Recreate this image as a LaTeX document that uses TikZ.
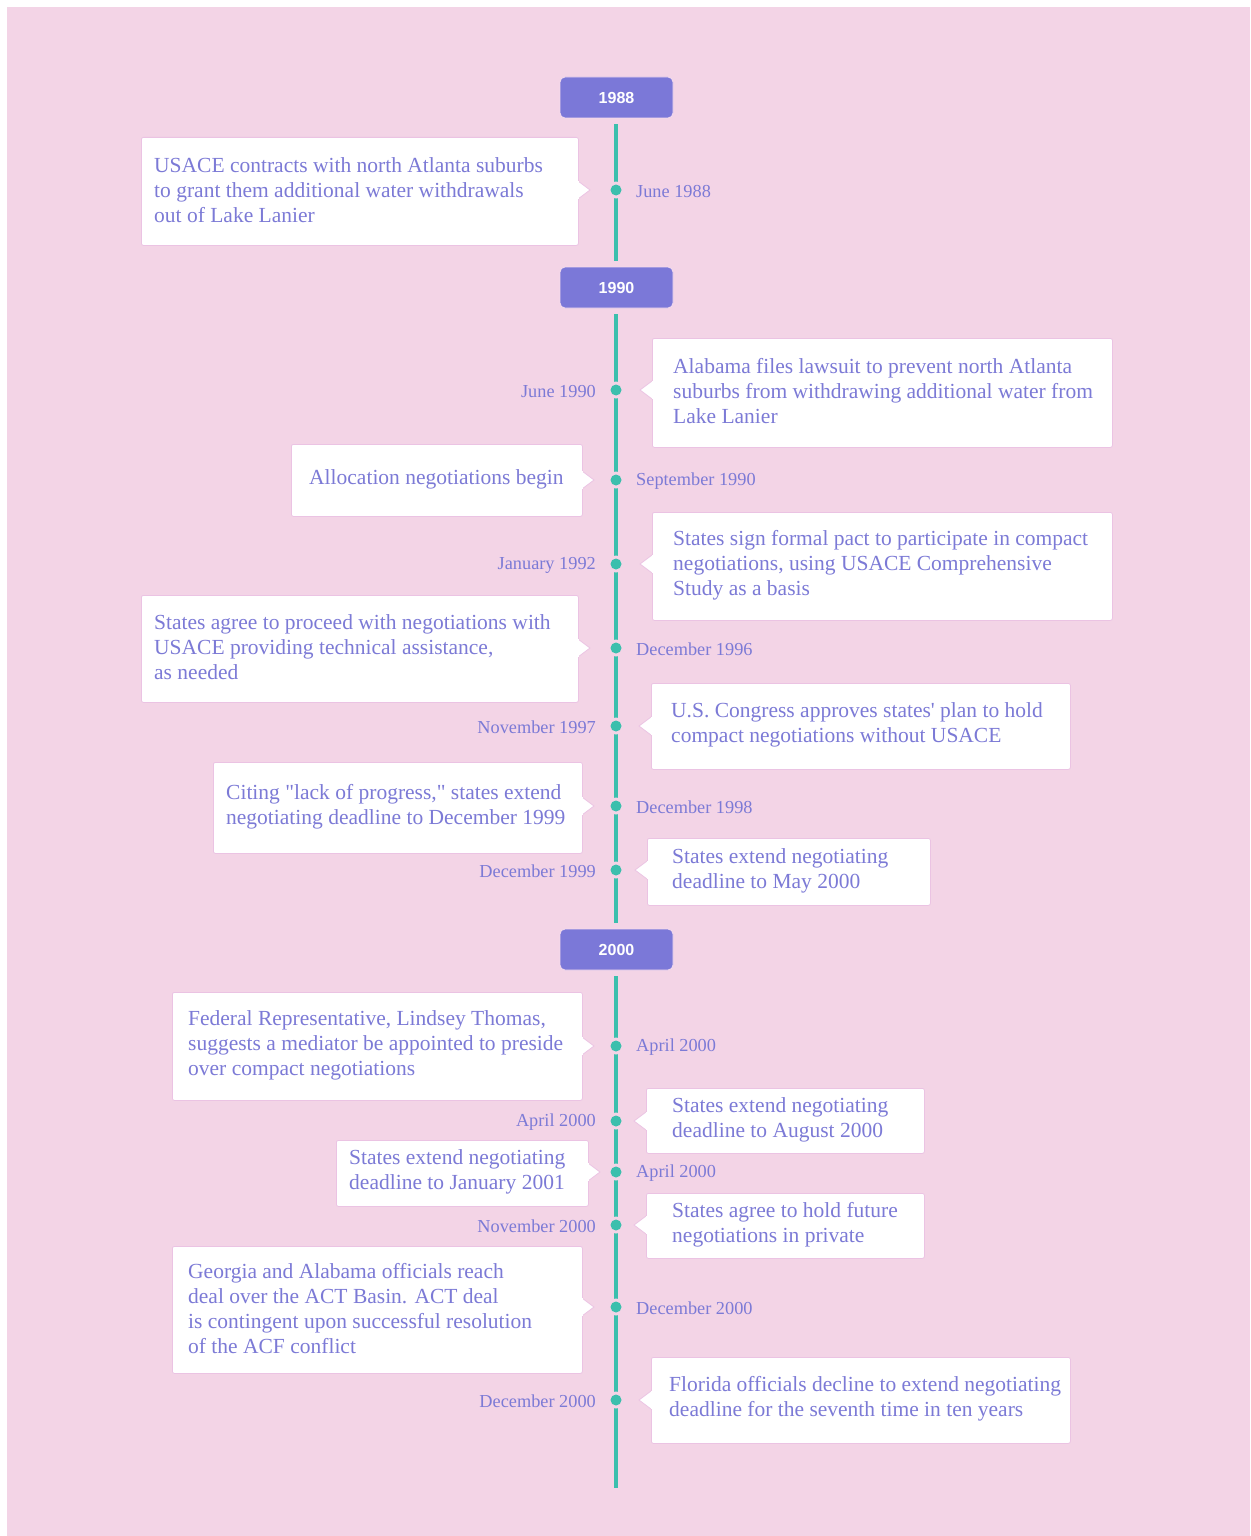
\documentclass[tikz,border=0pt]{standalone}
\usepackage{fontspec}
\setmainfont{Liberation Serif}
\newfontfamily\yearfont{Liberation Sans}
\definecolor{bgpink}{HTML}{F3D4E6}
\definecolor{txtpurple}{HTML}{7C7AD6}
\definecolor{yearfill}{HTML}{7B78D8}
\definecolor{tlteal}{HTML}{3BBFAD}
\definecolor{boxedge}{HTML}{EBC3E3}
\tikzset{
  evbox/.style={draw=boxedge, line width=0.8pt, fill=white, rounded corners=2pt, inner sep=0pt},
  evtext/.style={text=txtpurple, align=left, inner sep=0pt, font=\fontsize{21.5}{25}\selectfont},
  datelbl/.style={text=txtpurple, inner sep=0pt, font=\fontsize{18.3}{20}\selectfont},
  yearbox/.style={fill=yearfill, draw=boxedge!60!white, line width=0.8pt, rounded corners=5pt, minimum width=113pt, minimum height=41pt, inner sep=0pt, text=white, font=\yearfont\bfseries\fontsize{16}{18}\selectfont},
  tl/.style={draw=tlteal, line width=3.5pt},
  tdot/.style={circle, fill=tlteal, minimum size=11pt, inner sep=0pt},
}
% left event: name, x1, y1, x2, y2, doty, date, text, textx
\newcommand\evL[9]{%
  \fill[bgpink] (616,#6) circle (8.5);
  \node[tdot] (#1c) at (616,#6) {};
  \node[evbox, minimum width={#4-#2}, minimum height={#5-#3}, anchor=north west] (#1) at (#2,#3) {};
  \draw[boxedge, line width=0.8pt, fill=white] (#4,{#6-9}) -- ({#4+12},#6) -- (#4,{#6+9});
  \fill[white] ({#4-1.5},{#6-9}) rectangle ({#4+0.5},{#6+9});
  \node[evtext, anchor=west] (#1t) at (#9,{(#3+#5)/2-1}) {#8};
  \node[datelbl, anchor=west] (#1d) at (636,{#6+1.5}) {#7};
}
% right event
\newcommand\evR[9]{%
  \fill[bgpink] (616,#6) circle (8.5);
  \node[tdot] (#1c) at (616,#6) {};
  \node[evbox, minimum width={#4-#2}, minimum height={#5-#3}, anchor=north west] (#1) at (#2,#3) {};
  \draw[boxedge, line width=0.8pt, fill=white] (#2,{#6-9}) -- ({#2-12},#6) -- (#2,{#6+9});
  \fill[white] ({#2-0.5},{#6-9}) rectangle ({#2+1.5},{#6+9});
  \node[evtext, anchor=west] (#1t) at (#9,{(#3+#5)/2-1}) {#8};
  \node[datelbl, anchor=east] (#1d) at (596,{#6+1.5}) {#7};
}
\begin{document}
\begin{tikzpicture}[x=1pt,y=-1pt]
\useasboundingbox (0,0) rectangle (1250,1536);
\fill[white] (0,0) rectangle (1250,1536);
\fill[bgpink] (7,7) rectangle (1250,1536);

\node[yearbox] (y88) at (616.5,97.5) {1988};
\node[yearbox] (y90) at (616.5,287.5) {1990};
\node[yearbox] (y00) at (616.5,949.5) {2000};
\coordinate (tlend) at (616,1488);

\draw[tl] ([yshift=-6pt]y88.south -| 616,0) -- ([yshift=6pt]y90.north -| 616,0);
\draw[tl] ([yshift=-6pt]y90.south -| 616,0) -- ([yshift=6pt]y00.north -| 616,0);
\draw[tl] ([yshift=-6pt]y00.south -| 616,0) -- (tlend);

\evL{e1}{141}{137}{578}{245}{190}{June 1988}{USACE contracts with north Atlanta suburbs\\to grant them additional water withdrawals\\out of Lake Lanier}{154}
\evR{e2}{652}{338}{1112}{447}{390}{June 1990}{Alabama files lawsuit to prevent north Atlanta\\suburbs from withdrawing additional water from\\Lake Lanier}{673}
\evL{e3}{291}{444}{582}{516}{480}{September 1990}{Allocation negotiations begin}{309}
\evR{e4}{652}{512}{1112}{620}{564}{January 1992}{States sign formal pact to participate in compact\\negotiations, using USACE Comprehensive\\Study as a basis}{673}
\evL{e5}{141}{595}{578}{702}{648}{December 1996}{States agree to proceed with negotiations with\\USACE providing technical assistance,\\as needed}{154}
\evR{e6}{651}{683}{1070}{769}{726}{November 1997}{U.S. Congress approves states\textquotesingle\ plan to hold\\compact negotiations without USACE}{671}
\evL{e7}{213}{762}{582}{853}{806}{December 1998}{Citing \textquotedbl lack of progress,\textquotedbl\ states extend\\negotiating deadline to December 1999}{226}
\evR{e8}{647}{838}{930}{905}{870}{December 1999}{States extend negotiating\\deadline to May 2000}{672}
\evL{e9}{172}{992}{582}{1100}{1046}{April 2000}{Federal Representative, Lindsey Thomas,\\suggests a mediator be appointed to preside\\over compact negotiations}{188}
\evR{e10}{646}{1088}{924}{1153}{1121}{April 2000}{States extend negotiating\\deadline to August 2000}{672}
\evL{e11}{336}{1140}{588}{1206}{1172}{April 2000}{States extend negotiating\\deadline to January 2001}{349}
\evR{e12}{646}{1193}{924}{1258}{1225}{November 2000}{States agree to hold future\\negotiations in private}{672}
\evL{e13}{172}{1246}{582}{1373}{1307}{December 2000}{Georgia and Alabama officials reach\\deal over the ACT Basin. ACT deal\\is contingent upon successful resolution\\of the ACF conflict}{188}
\evR{e14}{651}{1357}{1070}{1443}{1400}{December 2000}{Florida officials decline to extend negotiating\\deadline for the seventh time in ten years}{669}
\end{tikzpicture}
\end{document}
